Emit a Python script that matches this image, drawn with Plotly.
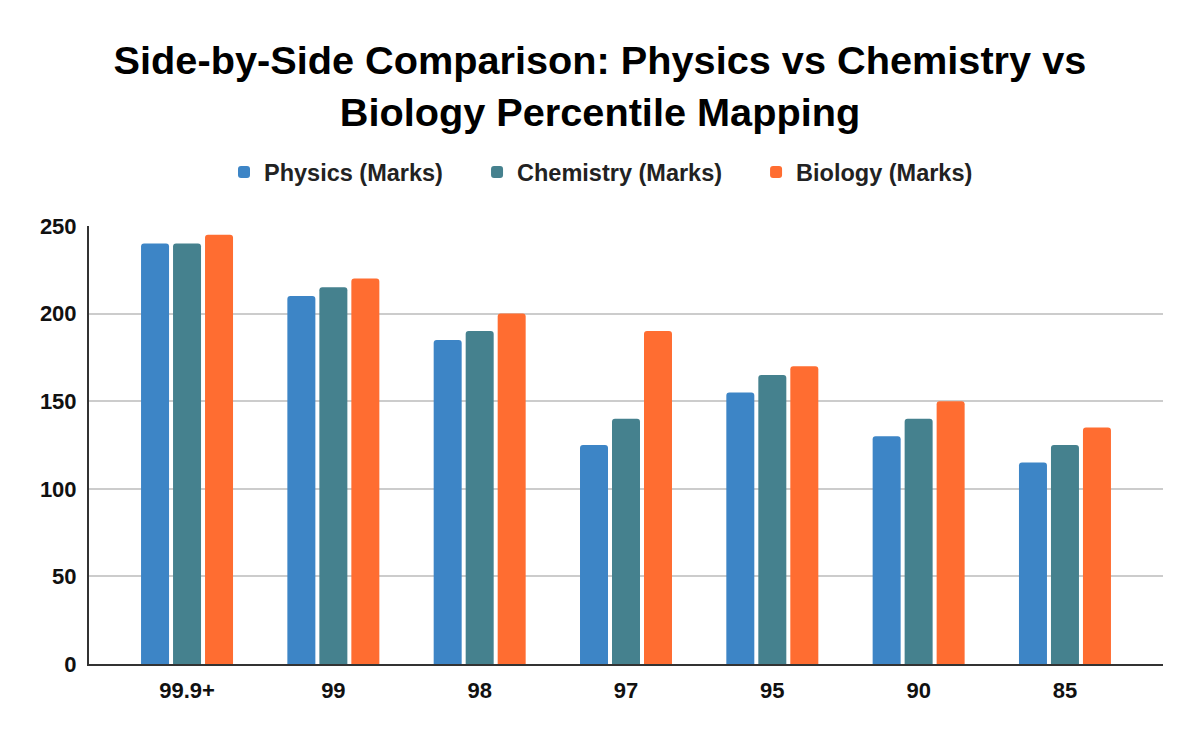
import plotly.graph_objects as go

categories = ["99.9+", "99", "98", "97", "95", "90", "85"]
physics = [240, 210, 185, 125, 155, 130, 115]
chemistry = [240, 215, 190, 140, 165, 140, 125]
biology = [245, 220, 200, 190, 170, 150, 135]
y_ticks = [0, 50, 100, 150, 200, 250]

series = [
    ("Physics (Marks)", physics, "#3d85c6", "legend", 0.1257),
    ("Chemistry (Marks)", chemistry, "#45818e", "legend2", 0.3613),
    ("Biology (Marks)", biology, "#ff6d31", "legend3", 0.6211),
]

FONT = "Liberation Sans, Arial, sans-serif"

fig = go.Figure()
legends = {}
for name, vals, color, leg, lx in series:
    fig.add_trace(go.Bar(x=categories, y=vals, name=name, legend=leg,
                         marker=dict(color=color, line=dict(width=0), cornerradius=3)))
    legends[leg] = dict(
        orientation="h", x=lx, xanchor="left", y=1.123, yanchor="middle",
        font=dict(family=FONT, size=23.5, color="#222222", weight="bold"),
        itemwidth=30, bgcolor="rgba(0,0,0,0)",
    )

fig.update_layout(
    width=1200, height=742,
    paper_bgcolor="white", plot_bgcolor="white",
    margin=dict(l=81, r=45, t=218, b=86),
    barmode="group", bargap=0.344, bargroupgap=0.125,
    title=dict(
        text="<b>Side-by-Side Comparison: Physics vs Chemistry vs<br>Biology Percentile Mapping</b>",
        x=0.4933, xanchor="center", y=0.911, yanchor="middle",
        font=dict(family=FONT, size=39.7, color="#000000"),
    ),
    showlegend=True,
    **legends,
)
fig.update_xaxes(
    range=[-0.67, len(categories) - 1 + 0.67],
    showline=True, linecolor="#333333", linewidth=2,
    tickfont=dict(family=FONT, size=22, color="#111111", weight="bold"),
    ticks="", showgrid=False, ticklabelstandoff=6,
)
fig.update_yaxes(
    range=[0, 250], tickvals=y_ticks,
    showline=True, linecolor="#333333", linewidth=2,
    gridcolor="#cccccc", gridwidth=1.5,
    tickfont=dict(family=FONT, size=22, color="#111111", weight="bold"),
    ticks="", ticklabelstandoff=6, zeroline=False,
)
fig.write_html("out.html")
